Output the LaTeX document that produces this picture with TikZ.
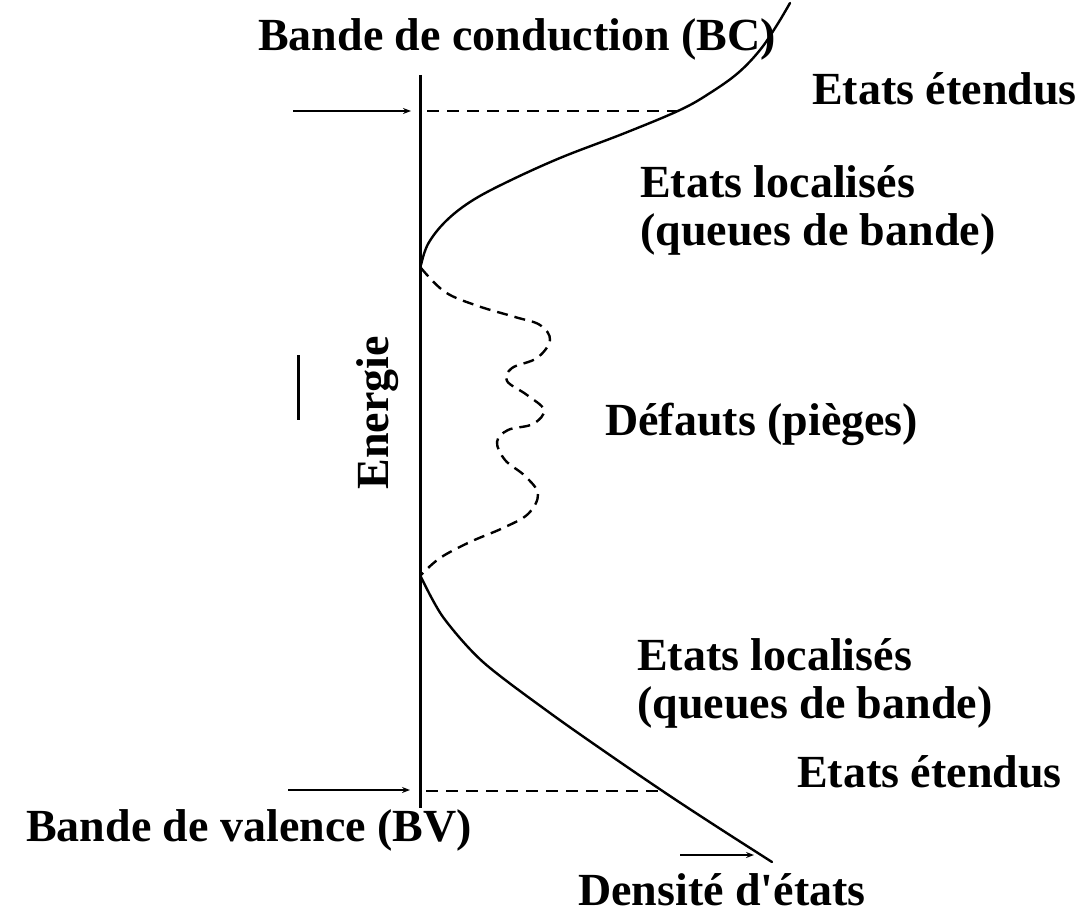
\documentclass[tikz,border=0pt]{standalone}
\usepackage{fontspec}
\setmainfont{Liberation Serif}
\usetikzlibrary{arrows.meta, positioning}

\begin{document}
\begin{tikzpicture}[x=1pt, y=-1pt,
  every node/.style={font=\fontsize{46}{48}\selectfont\bfseries, inner sep=0pt, anchor=base west, align=left},
  a/.style={-{Stealth[length=8pt, width=6pt]}, line width=1.8pt},
  axe/.style={line width=3pt},
  dos/.style={line width=2.4pt, line cap=round},
  lim/.style={line width=2pt, dash pattern=on 12pt off 8pt},
  piege/.style={line width=2.4pt, dash pattern=on 11pt off 7pt}]
\useasboundingbox (0,0) rectangle (1086,917);
% textes
\node (bc)   at (258,51)  {Bande de conduction (BC)};
\node (ete1) at (812,105) {Etats étendus};
\node (loc1) at (640,246) {Etats localisés\\(queues de bande)};
\node (def)  at (605,435) {Défauts (pièges)};
\node (loc2) at (637,718) {Etats localisés\\(queues de bande)};
\node (ete2) at (797,787) {Etats étendus};
\node (bv)   at (26,841)  {Bande de valence (BV)};
\node (dens) at (578,905) {Densité d\textquotesingle états};
\node[rotate=90, anchor=base] (en) at (388,413) {Energie};
% axe de l'energie
\coordinate (haut) at (420,75);
\coordinate (bas)  at (420,808);
\draw[axe] (haut) -- (bas);
\draw[axe] (298,355) -- (298,420);
% niveaux BC et BV
\coordinate (ec0) at (293,111);
\coordinate (ec1) at (411,111);
\coordinate (ec2) at (427,111);
\coordinate (ec3) at (680,111);
\coordinate (ev0) at (288,790);
\coordinate (ev1) at (410,790);
\coordinate (ev2) at (426,791);
\coordinate (ev3) at (658,791);
\draw[a] (ec0) -- (ec1);
\draw[lim] (ec2) -- (ec3);
\draw[a] (ev0) -- (ev1);
\draw[lim] (ev2) -- (ev3);
% densite d'etats
\coordinate (d0) at (680,855);
\coordinate (d1) at (754,855);
\draw[a] (d0) -- (d1);
\draw[dos] plot[smooth, tension=0.6] coordinates {(421,265) (428,244) (445,222) (470,202) (505,183) (560,158) (625,133) (680,110) (710,93) (738,73) (760,50) (777,25) (790,3)};
\draw[piege] plot[smooth, tension=0.6] coordinates {(421,268) (445,292) (478,306) (515,317) (540,325) (550,340) (537,358) (512,368) (507,381) (527,395) (544,410) (533,424) (508,430) (497,442) (505,460) (525,476) (538,494) (528,514) (503,528) (470,542) (440,558) (421,575)};
\draw[dos] plot[smooth, tension=0.5] coordinates {(421,577) (443,617) (483,662) (550,713) (617,760) (673,798) (722,830) (772,862)};
\end{tikzpicture}
\end{document}
